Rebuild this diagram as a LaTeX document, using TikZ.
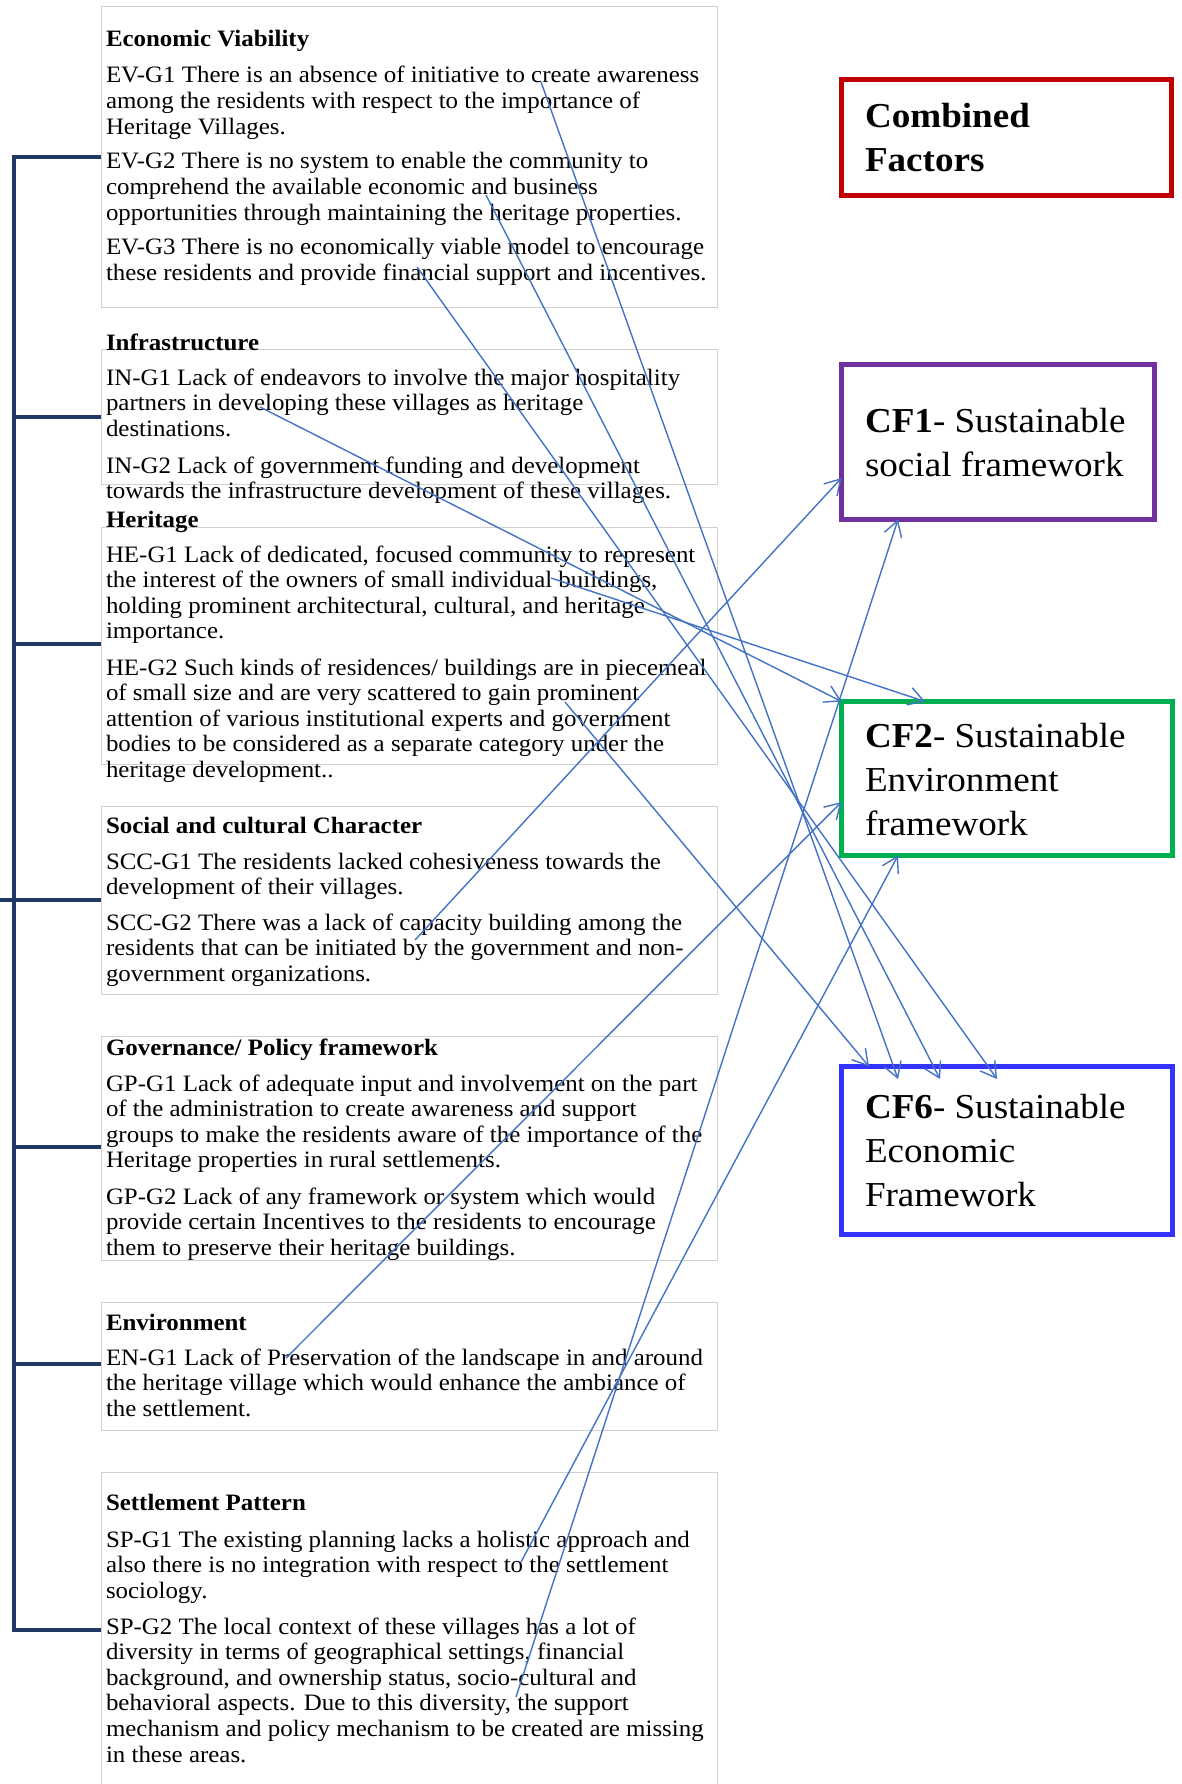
\documentclass[tikz,border=0pt]{standalone}
\usepackage{fontspec}
\setmainfont{Liberation Serif}[FakeStretch=1.06]
\usetikzlibrary{arrows.meta,calc}
\definecolor{navy}{HTML}{1F3864}
\definecolor{arrowblue}{HTML}{4472C4}
\definecolor{cfred}{HTML}{C00000}
\definecolor{cfpurple}{HTML}{7030A0}
\definecolor{cfgreen}{HTML}{00B050}
\definecolor{cfblue}{HTML}{3333FF}
\definecolor{gboxc}{HTML}{D0D0D0}
\newcommand\ptx[1]{\parbox[t]{700pt}{\fontsize{23.5}{25.6}\selectfont\raggedright #1}}
\newcommand\cftx[1]{\parbox[t]{320pt}{\fontsize{35}{44}\selectfont\raggedright #1}}
\begin{document}
\begin{tikzpicture}[x=1pt,y=-1pt,
  txt/.style={anchor=base west, inner sep=0pt, outer sep=0pt},
  gbox/.style={draw=gboxc, line width=1pt},
  brk/.style={draw=navy, line width=4pt},
  cfbox/.style={draw, line width=5pt, inner sep=0pt, outer sep=0pt, fill=white},
  link/.style={draw=arrowblue, line width=1.4pt, -{Straight Barb[length=15pt,width=18pt]}}]
\useasboundingbox (0,0) rectangle (1181,1784);
\fill[white] (0,0) rectangle (1181,1784);

% grey boxes
\draw[gbox] (101,7) rectangle (717,308);
\draw[gbox] (101,349) rectangle (717,484);
\draw[gbox] (101,527) rectangle (717,764);
\draw[gbox] (101,806) rectangle (717,994);
\draw[gbox] (101,1036) rectangle (717,1260);
\draw[gbox] (101,1302) rectangle (717,1430);
\draw[gbox] (101,1472) rectangle (717,1800);

% bracket
\draw[brk] (101,157) -- (14,157) -- (14,1630) -- (101,1630);
\draw[brk] (14,417) -- (101,417);
\draw[brk] (14,644) -- (101,644);
\draw[brk] (0,900) -- (101,900);
\draw[brk] (14,1147) -- (101,1147);
\draw[brk] (14,1364) -- (101,1364);

% texts
\node[txt] (tev) at (106,47) {\ptx{\textbf{Economic Viability}}};
\node[txt] (ev1) at (106,83) {\ptx{EV-G1 There is an absence of initiative to create awareness\\among the residents with respect to the importance of\\Heritage Villages.}};
\node[txt] (ev2) at (106,169) {\ptx{EV-G2 There is no system to enable the community to\\comprehend the available economic and business\\opportunities through maintaining the heritage properties.}};
\node[txt] (ev3) at (106,255) {\ptx{EV-G3 There is no economically viable model to encourage\\these residents and provide financial support and incentives.}};

\node[txt] (tin) at (106,350) {\ptx{\textbf{Infrastructure}}};
\node[txt] (in1) at (106,385) {\ptx{IN-G1 Lack of endeavors to involve the major hospitality\\partners in developing these villages as heritage\\destinations.}};
\node[txt] (in2) at (106,473) {\ptx{IN-G2 Lack of government funding and development\\towards the infrastructure development of these villages.}};

\node[txt] (the) at (106,527) {\ptx{\textbf{Heritage}}};
\node[txt] (he1) at (106,562) {\ptx{HE-G1 Lack of dedicated, focused community to represent\\the interest of the owners of small individual buildings,\\holding prominent architectural, cultural, and heritage\\importance.}};
\node[txt] (he2) at (106,675) {\ptx{HE-G2 Such kinds of residences/ buildings are in piecemeal\\of small size and are very scattered to gain prominent\\attention of various institutional experts and government\\bodies to be considered as a separate category under the\\heritage development..}};

\node[txt] (tscc) at (106,833) {\ptx{\textbf{Social and cultural Character}}};
\node[txt] (scc1) at (106,869) {\ptx{SCC-G1 The residents lacked cohesiveness towards the\\development of their villages.}};
\node[txt] (scc2) at (106,930) {\ptx{SCC-G2 There was a lack of capacity building among the\\residents that can be initiated by the government and non-\\government organizations.}};

\node[txt] (tgp) at (106,1055) {\ptx{\textbf{Governance/ Policy framework}}};
\node[txt] (gp1) at (106,1091) {\ptx{GP-G1 Lack of adequate input and involvement on the part\\of the administration to create awareness and support\\groups to make the residents aware of the importance of the\\Heritage properties in rural settlements.}};
\node[txt] (gp2) at (106,1204) {\ptx{GP-G2 Lack of any framework or system which would\\provide certain Incentives to the residents to encourage\\them to preserve their heritage buildings.}};

\node[txt] (ten) at (106,1330) {\ptx{\textbf{Environment}}};
\node[txt] (en1) at (106,1365) {\ptx{EN-G1 Lack of Preservation of the landscape in and around\\the heritage village which would enhance the ambiance of\\the settlement.}};

\node[txt] (tsp) at (106,1510) {\ptx{\textbf{Settlement Pattern}}};
\node[txt] (sp1) at (106,1547) {\ptx{SP-G1 The existing planning lacks a holistic approach and\\also there is no integration with respect to the settlement\\sociology.}};
\node[txt] (sp2) at (106,1634) {\ptx{SP-G2 The local context of these villages has a lot of\\diversity in terms of geographical settings, financial\\background, and ownership status, socio-cultural and\\behavioral aspects. Due to this diversity, the support\\mechanism and policy mechanism to be created are missing\\in these areas.}};

% right boxes
\node[cfbox, draw=cfred, minimum width=330pt, minimum height=116pt] (cf0) at (1006.5,137.5) {};
\node[cfbox, draw=cfpurple, minimum width=313pt, minimum height=155pt] (cf1) at (998,442) {};
\node[cfbox, draw=cfgreen, minimum width=331pt, minimum height=154pt] (cf2) at (1007,778.5) {};
\node[cfbox, draw=cfblue, minimum width=331pt, minimum height=168pt] (cf6) at (1007,1150.5) {};

\node[txt] (cf0t) at (865,128) {\cftx{\textbf{Combined}\\\textbf{Factors}}};
\node[txt] (cf1t) at (865,432) {\cftx{\textbf{CF1}- Sustainable\\social framework}};
\node[txt] (cf2t) at (865,747) {\cftx{\textbf{CF2}- Sustainable\\Environment\\framework}};
\node[txt] (cf6t) at (865,1118) {\cftx{\textbf{CF6}- Sustainable\\Economic\\Framework}};

% connector start points
\coordinate (sev1) at (541,82);
\coordinate (sev2) at (486,195);
\coordinate (sev3) at (417,267);
\coordinate (sin1) at (260,407);
\coordinate (she1) at (551,578);
\coordinate (she2) at (565,702);
\coordinate (sscc2) at (415,940);
\coordinate (sen1) at (286,1358);
\coordinate (ssp1) at (521,1562);
\coordinate (ssp2) at (516,1697);

% connectors
\draw[link] (sev1) -- ($(cf6.north west)+(56.5pt,-12.5pt)$);
\draw[link] (sev2) -- ($(cf6.north west)+(98.5pt,-12.5pt)$);
\draw[link] (sev3) -- ($(cf6.north west)+(155.5pt,-12.5pt)$);
\draw[link] (she2) -- ($(cf6.north west)+(27.5pt,0pt)$);
\draw[link] (sin1) -- (cf2.north west);
\draw[link] (she1) -- ($(cf2.north west)+(83.5pt,0pt)$);
\draw[link] (sen1) -- ($(cf2.north west)+(0pt,-100.5pt)$);
\draw[link] (ssp1) -- ($(cf2.south west)+(56.5pt,0pt)$);
\draw[link] (sscc2) -- ($(cf1.north west)+(0pt,-113.5pt)$);
\draw[link] (ssp2) -- ($(cf1.south west)+(56.5pt,0pt)$);
\end{tikzpicture}
\end{document}
